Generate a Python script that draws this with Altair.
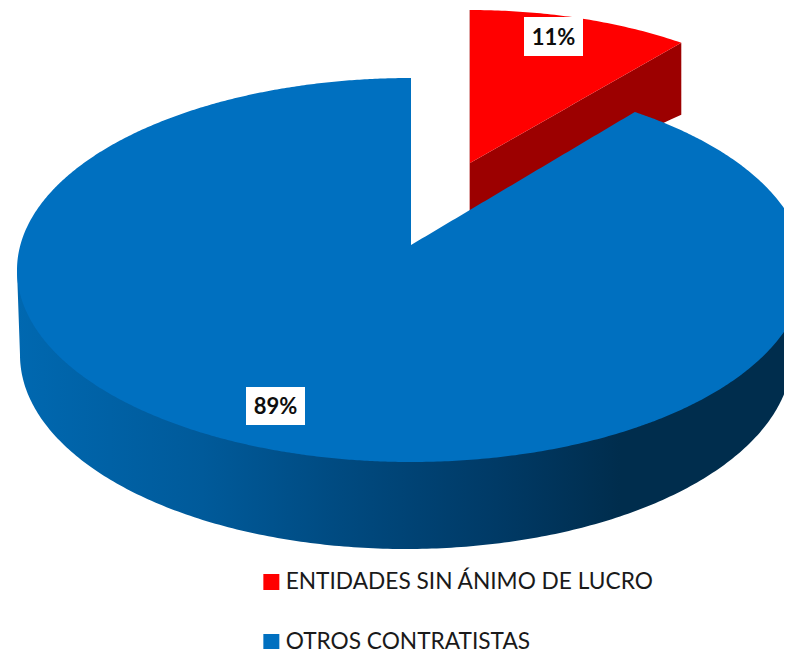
import math
import altair as alt
import pandas as pd

CATEGORIES = ["ENTIDADES SIN ÁNIMO DE LUCRO", "OTROS CONTRATISTAS"]
SHARES = [11, 89]
LABELS = ["11%", "89%"]
COLOURS = ["#FF0000", "#0070C0"]

# Page geometry: the scales map image pixels on to the plot area.
W, H = 776, 641
X_DOM = [8, 784]
Y_DOM = [649, 8]

# Pie projection
BLUE = dict(cx=411, cy=270, a=394, b=192, ax=411, ay=245)
RED = dict(cx=470, cy=195, a=372, b=185, ax=470, ay=163)
BASE = dict(cx=406, cy=355, a=386, b=194)
FORESHORTEN = 0.874  # apparent angle of the tilted wedge
END = math.radians(SHARES[0] * 3.6 * FORESHORTEN)
RIGHT_END = 792


def top(e, x):
    r = max(0.0, 1 - ((x - e["cx"]) / e["a"]) ** 2)
    return e["cy"] - e["b"] * math.sqrt(r)


def bottom(e, x):
    r = max(0.0, 1 - ((x - e["cx"]) / e["a"]) ** 2)
    return e["cy"] + e["b"] * math.sqrt(r)


def frange(a, b, n):
    return [a + (b - a) * i / n for i in range(n + 1)]


rows = []
# red top
rx = RED["cx"] + RED["a"] * math.sin(END)
ry = top(RED, rx)
for x in frange(RED["ax"], rx, 60):
    lo = RED["ay"] + (ry - RED["ay"]) * (x - RED["ax"]) / (rx - RED["ax"])
    rows.append(dict(s=CATEGORIES[0], x=x, y=top(RED, x), y2=lo))
# blue top
bx = BLUE["cx"] + BLUE["a"] * math.sin(END)
by = top(BLUE, bx)
left = BLUE["cx"] - BLUE["a"]
for i in range(241):
    t = math.pi * (1 - i / 480)
    x = BLUE["cx"] + BLUE["a"] * math.cos(t)
    rows.append(dict(s=CATEGORIES[1], x=x, y=top(BLUE, x), y2=bottom(BLUE, x)))
for x in frange(BLUE["ax"] + 0.01, bx, 60):
    up = BLUE["ay"] + (by - BLUE["ay"]) * (x - BLUE["ax"]) / (bx - BLUE["ax"])
    rows.append(dict(s=CATEGORIES[1], x=x, y=up, y2=bottom(BLUE, x)))
for x in frange(bx + 0.01, RIGHT_END, 90):
    rows.append(dict(s=CATEGORIES[1], x=x, y=top(BLUE, x), y2=bottom(BLUE, x)))
tops = pd.DataFrame(rows)

# blue rim
base_left = BASE["cx"] - BASE["a"]
rim = []
for x in frange(left, base_left, 6):
    rim.append(dict(x=x, y=BLUE["cy"], y2=BLUE["cy"] + (BASE["cy"] - BLUE["cy"]) * (x - left) / (base_left - left)))
for i in range(1, 241):
    t = math.pi * (1 - i / 240 * 0.97)
    x = min(RIGHT_END, BASE["cx"] + BASE["a"] * math.cos(t))
    rim.append(dict(x=x, y=BLUE["cy"], y2=bottom(BASE, x)))
rim = pd.DataFrame(rim).drop_duplicates("x")

# red rim: cut face below the wedge edge
DROP_L, DROP_R = 49, 72
red_rim = pd.DataFrame(
    [
        dict(x=RED["ax"] + (rx - RED["ax"]) * f,
             y=RED["ay"] + (ry - RED["ay"]) * f,
             y2=RED["ay"] + (ry - RED["ay"]) * f + DROP_L + (DROP_R - DROP_L) * f)
        for f in frange(0, 1, 20)
    ]
)
red_edge = pd.DataFrame({"x": [RED["ax"]] * 2, "y": [top(RED, RED["ax"]), RED["ay"] + DROP_L]})

labels = pd.DataFrame(
    {
        "text": LABELS,
        "x": [553.5, 275.5],
        "y": [38, 407],
        "x0": [524, 246],
        "x1": [583, 305],
        "y0": [17, 387],
        "y1": [56, 425],
    }
)

xs = alt.Scale(domain=X_DOM, nice=False, zero=False)
ys = alt.Scale(domain=Y_DOM, nice=False, zero=False)
X = alt.X("x:Q", scale=xs, axis=None)
Y = alt.Y("y:Q", scale=ys, axis=None)
Y2 = alt.Y2("y2:Q")

side_gradient = alt.Gradient(
    gradient="linear", x1=0, x2=1, y1=0, y2=0,
    stops=[
        alt.GradientStop(offset=0.0, color="#0068B0"),
        alt.GradientStop(offset=0.24, color="#005A9A"),
        alt.GradientStop(offset=0.42, color="#004A80"),
        alt.GradientStop(offset=0.62, color="#003A66"),
        alt.GradientStop(offset=0.78, color="#002D4D"),
        alt.GradientStop(offset=1.0, color="#002D4D"),
    ],
)

blue_side = alt.Chart(rim).mark_area(color=side_gradient).encode(x=X, y=Y, y2=Y2)
red_side = alt.Chart(red_rim).mark_area(color="#9C0000").encode(x=X, y=Y, y2=Y2)
edge = alt.Chart(red_edge).mark_line(color="#A00000", strokeWidth=1, opacity=0.7).encode(x=X, y=Y)
surfaces = alt.Chart(tops).mark_area().encode(
    x=X, y=Y, y2=Y2,
    color=alt.Color(
        "s:N",
        scale=alt.Scale(domain=CATEGORIES, range=COLOURS),
        legend=alt.Legend(
            title=None, orient="none", legendX=252, legendY=562, direction="vertical",
            symbolType="square", symbolSize=256, symbolStrokeWidth=0,
            labelFont="Lato", labelFontSize=22.7, labelColor="#1a1a1a",
            labelLimit=520, rowPadding=36, labelOffset=3, clipHeight=24,
        ),
    ),
)
boxes = alt.Chart(labels).mark_rect(color="white").encode(
    x=alt.X("x0:Q", scale=xs, axis=None), x2="x1:Q",
    y=alt.Y("y0:Q", scale=ys, axis=None), y2="y1:Q",
)
texts = alt.Chart(labels).mark_text(
    font="Lato", fontWeight="bold", fontSize=22, color="#0d0d0d", baseline="middle", align="center"
).encode(x=X, y=Y, text="text:N")

chart = (
    alt.layer(blue_side, red_side, edge, surfaces, boxes, texts)
    .resolve_legend(color="independent")
    .properties(
        width=W, height=H,
        padding=0,
        autosize=alt.AutoSizeParams(type="none"),
        background="white",
    )
    .configure_view(stroke=None)
)
chart.save("out.html", embed_options={"renderer": "svg", "actions": False})
